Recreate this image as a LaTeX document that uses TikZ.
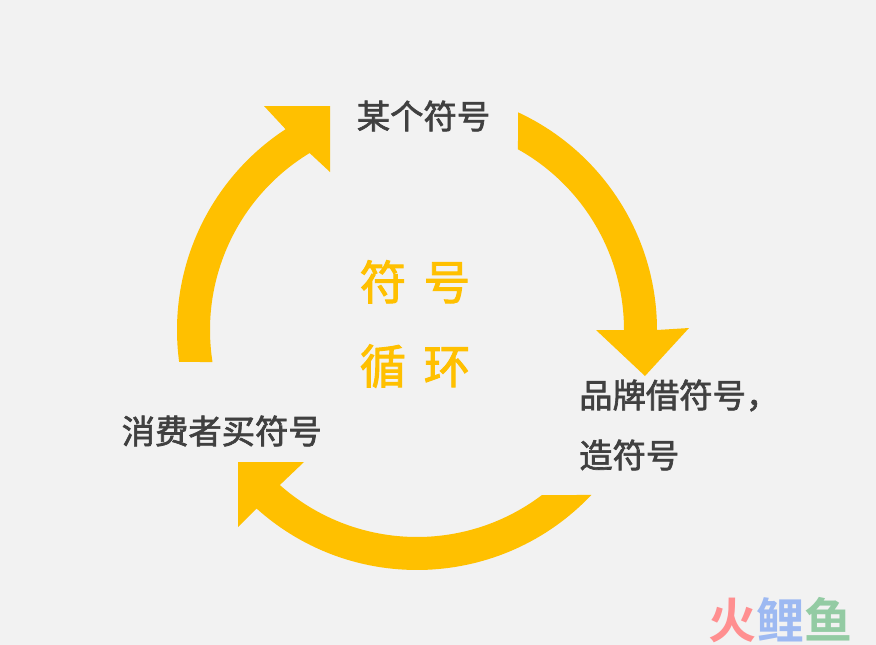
\documentclass[tikz,border=0pt]{standalone}
\usepackage{fontspec}
\usepackage{tikz}
\usetikzlibrary{positioning}
\setmainfont[FakeBold=2]{Noto Sans CJK SC}
\newfontfamily\titlefont[FakeBold=2]{Noto Sans CJK SC}
\newfontfamily\cjkbold{Noto Sans CJK SC Bold}
\definecolor{arrowyellow}{HTML}{FFC000}
\definecolor{textgray}{HTML}{404040}
\definecolor{pagegray}{HTML}{F2F2F2}
\definecolor{markred}{HTML}{FF8F90}
\definecolor{markblue}{HTML}{9DB9F2}
\definecolor{markgreen}{HTML}{93CBA3}

\begin{document}
\begin{tikzpicture} [x=0.75pt, y=-0.75pt]
    \tikzset{
      label/.style={text=textgray, font=\fontsize{25}{45}\selectfont, inner sep=0pt, align=left},
      title/.style={text=arrowyellow, font=\fontsize{35}{63}\selectfont\titlefont, inner sep=0pt, align=center},
      cycle arrow/.style={fill=arrowyellow, draw=none}
    }
    \useasboundingbox (0,0) rectangle (876,644);
    \fill[pagegray] (-4,-4) rectangle (880,648);

    % circle centre, radii 240 and 207
    \coordinate (hub) at (417,330);
    \path[cycle arrow] ([shift={(-65.1:240)}]hub) arc[start angle=-65.1, end angle=0, radius=240]
      -- (689,328) -- (645,376) -- (596,330) -- ([shift={(0:207)}]hub)
      arc[start angle=0, end angle=-60.8, radius=207] -- cycle;
    \path[cycle arrow] ([shift={(43.43:240)}]hub) arc[start angle=43.43, end angle=131.95, radius=240]
      -- (238,527) -- (238,462) -- (304,462) -- ([shift={(131.5:207)}]hub)
      arc[start angle=131.5, end angle=52.86, radius=207] -- cycle;
    \path[cycle arrow] ([shift={(172.35:240)}]hub) arc[start angle=172.35, end angle=236.8, radius=240]
      -- (264,106) -- (330,106) -- (330,172) -- ([shift={(238.75:207)}]hub)
      arc[start angle=238.75, end angle=171.1, radius=207] -- cycle;

    \node[label]                (symbol) at (423.5,116) {某个符号};
    \node[label, anchor=west]   (brand) at (579,425) {品牌借符号，\\造符号};
    \node[label, anchor=west]   (buyer) at (121.5,431) {消费者买符号};
    \node[title]                (centre) at (415,324) {符\hspace{13pt}号\\循\hspace{13pt}环};

    \node[inner sep=0pt, font=\fontsize{36}{36}\selectfont\cjkbold] (mark) at (780,620)
      {\textcolor{markred}{火}\textcolor{markblue}{鲤}\textcolor{markgreen}{鱼}};
\end{tikzpicture}
\end{document}
